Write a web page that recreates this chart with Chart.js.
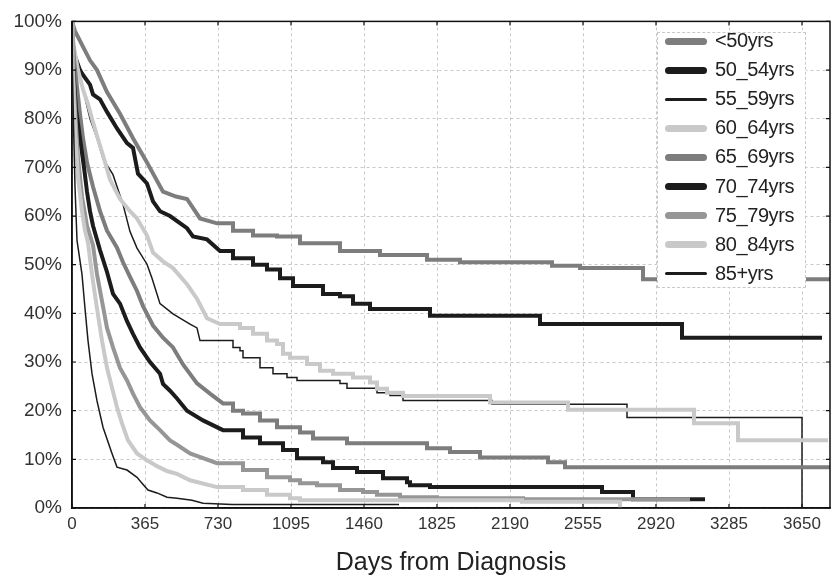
<!DOCTYPE html>
<html>
<head>
<meta charset="utf-8">
<script src="https://cdn.jsdelivr.net/npm/chart.js@4.4.1/dist/chart.umd.min.js"></script>
<style>
body { margin: 0; background: #fff; }
#wrap { position: relative; width: 832px; height: 578px; }
#legend { position: absolute; left: 657px; top: 32px; width: 149px; height: 256px; background: #fff; border: 1px dashed #c8c8c8; box-sizing: border-box; font: 20px "Liberation Sans", Arial, sans-serif; color: #222; }
.item { position: absolute; left: 0; height: 26px; width: 100%; }
.swatch { position: absolute; left: 7px; width: 42px; border-radius: 4px; }
.lbl { position: absolute; left: 57px; top: 1px; letter-spacing: -0.4px; }
</style>
</head>
<body>
<div id="wrap">
  <canvas id="myChart" width="832" height="578"></canvas>
  <div id="legend"></div>
</div>
<script>
// grupos de edad y estilo de cada linea
const groups = ['<50yrs', '50_54yrs', '55_59yrs', '60_64yrs', '65_69yrs', '70_74yrs', '75_79yrs', '80_84yrs', '85+yrs'];
const colors = ['#7d7d7d', '#1c1c1c', '#1c1c1c', '#c9c9c9', '#7d7d7d', '#1c1c1c', '#969696', '#c9c9c9', '#1c1c1c'];
const widths = [4, 4, 1.5, 4, 4, 4, 4, 4, 1.5];

const xTicks = [0, 365, 730, 1095, 1460, 1825, 2190, 2555, 2920, 3285, 3650];
const yTicks = [0, 10, 20, 30, 40, 50, 60, 70, 80, 90, 100];

// a partir de este dia los escalones se ven sueltos
const stepFrom = 800;

// [dias, supervivencia %]
const s_lt50 = [[0,100],[15,98],[40,96],[90,92],[125,90],[175,85.5],[240,81],[305,76],[375,71],[455,65],[520,64],[575,63.5],[640,59.5],[725,58.5],[805,57],[905,56],[1025,55.8],[1140,54.4],[1340,52.8],[1540,52],[1775,51],[1940,50.5],[2400,49.8],[2540,49.3],[2855,47],[3790,47]];
const s_50_54 = [[0,100],[5,94],[40,90],[55,89],[90,87],[105,85],[140,84],[175,81.4],[225,78],[275,75],[305,74],[330,68.7],[375,66.7],[405,63],[440,61],[490,60],[575,57.5],[605,55.8],[675,55.2],[740,52.8],[805,51.3],[905,50],[975,49],[1040,47.2],[1105,45.6],[1255,44],[1340,43.5],[1405,42],[1490,40.9],[1790,39.5],[2340,37.8],[3050,35],[3750,35]];
const s_55_59 = [[0,100],[8,96],[30,90],[55,86],[90,80],[125,76],[155,71.8],[205,68.5],[255,62.4],[290,56.8],[325,53.4],[375,50.1],[400,47.2],[440,42],[505,39.9],[540,39],[590,37.8],[625,37],[640,34.4],[805,33],[840,32.3],[855,30.9],[940,28.8],[1005,27.6],[1075,26.8],[1125,26.2],[1340,25.6],[1375,24.6],[1525,23.7],[1590,23.1],[1655,22.1],[2100,21.3],[2775,18.6],[3650,0]];
const s_60_64 = [[0,100],[8,95],[30,90],[55,86],[80,83],[100,80],[125,76.5],[155,72.5],[190,67.5],[240,63.5],[290,61],[325,59.5],[375,56],[405,52.5],[455,50.7],[505,49.3],[575,46],[625,43],[675,39],[740,37.8],[840,37],[905,35.8],[975,34.4],[1025,33.7],[1055,31.7],[1090,30.9],[1175,29.6],[1240,28.2],[1305,27.6],[1405,26.8],[1490,25.8],[1525,24.5],[1575,23.7],[1655,23],[2090,21.7],[2480,20.2],[3110,17.4],[3330,13.9],[3780,13.9]];
const s_65_69 = [[0,100],[10,92],[40,81],[55,76],[75,71],[105,66],[140,61],[175,57],[225,53.5],[255,50.5],[290,47.5],[325,44.6],[355,41.5],[405,37.5],[455,35],[505,33],[555,29.5],[625,25.6],[690,23.5],[755,21.5],[805,20],[855,19.4],[940,18],[1025,16.6],[1140,15.5],[1205,14.3],[1375,13.3],[1775,12.3],[1890,11.5],[2040,10.4],[2380,9.4],[2465,8.4],[3790,8.4]];
const s_70_74 = [[0,100],[3,92],[20,82],[40,76],[60,70],[75,65],[90,61],[105,58],[140,53],[175,48.5],[205,44],[240,42],[275,38.4],[305,35.8],[340,33],[390,30],[440,27.6],[455,25.5],[490,24.1],[525,22.5],[575,20],[655,18],[755,16],[855,14.5],[940,13.3],[1055,11.9],[1125,10.2],[1255,9.4],[1305,8.2],[1425,7.4],[1555,6.1],[1675,5.3],[1690,4.7],[1790,4.3],[2650,3.3],[2805,1.8],[3165,1.8]];
const s_75_79 = [[0,100],[3,92],[15,82],[30,72],[50,64],[75,58],[105,54],[125,48],[150,42.5],[175,37],[205,33],[240,28.8],[275,26.2],[305,23.5],[340,20.7],[390,18],[440,16],[490,13.9],[525,13],[590,11.2],[725,9.2],[855,7.8],[975,6.3],[1090,5.7],[1140,5.1],[1225,4.7],[1340,3.7],[1455,3.3],[1525,2.7],[1640,2.2],[1825,2],[2255,1.8],[3090,1.8]];
const s_80_84 = [[0,100],[3,90],[15,78],[30,68],[50,61],[65,57],[80,54.5],[100,48],[125,41],[150,34.4],[175,28.8],[200,24.7],[225,20.7],[250,17.4],[280,13.9],[325,11.2],[375,9.8],[425,8.6],[475,7.6],[525,7],[590,5.7],[725,4.3],[855,3.7],[975,2.7],[1090,2],[1140,1.6],[2250,1.3],[2740,0]];
const s_85 = [[0,100],[2,90],[8,78],[15,66],[25,55],[50,48],[65,41],[80,34.4],[100,27.6],[125,22],[155,16.6],[200,11.2],[225,8.4],[275,7.8],[325,6.3],[350,5.1],[380,3.7],[425,3.1],[475,2.2],[525,2],[600,1.6],[655,1],[800,0.7],[1635,0.7]];

const series = [s_lt50, s_50_54, s_55_59, s_60_64, s_65_69, s_70_74, s_75_79, s_80_84, s_85];

// tramo inicial continuo, despues escalones de Kaplan-Meier
function toPoints(s) {
    const pts = [];
    s.forEach((p, i) => {
        if (i > 0 && p[0] > stepFrom) {
            pts.push({ x: p[0], y: s[i - 1][1] });
        }
        pts.push({ x: p[0], y: p[1] });
    });
    return pts;
}

const datasets = series.map((s, i) => ({
    label: groups[i],
    data: toPoints(s),
    borderColor: colors[i],
    backgroundColor: colors[i],
    borderWidth: widths[i],
    pointRadius: 0,
    tension: 0,
    fill: false,
    order: 9 - i
}));

// marco negro y marcas hacia adentro
const framePlugin = {
    id: 'frame',
    afterDraw(chart) {
        const ctx = chart.ctx;
        const a = chart.chartArea;
        const xs = chart.scales.x;
        const ys = chart.scales.y;
        ctx.save();
        ctx.strokeStyle = '#111';
        ctx.lineWidth = 1.5;
        ctx.strokeRect(a.left, a.top, a.right - a.left, a.bottom - a.top);
        ctx.lineWidth = 1.2;
        ctx.beginPath();
        xTicks.forEach(v => {
            const px = xs.getPixelForValue(v);
            ctx.moveTo(px, a.bottom); ctx.lineTo(px, a.bottom - 4);
            ctx.moveTo(px, a.top); ctx.lineTo(px, a.top + 4);
        });
        yTicks.forEach(v => {
            const py = ys.getPixelForValue(v);
            ctx.moveTo(a.left, py); ctx.lineTo(a.left + 4, py);
            ctx.moveTo(a.right, py); ctx.lineTo(a.right - 4, py);
        });
        ctx.stroke();
        ctx.restore();
    }
};

const ctx = document.getElementById('myChart').getContext('2d');
const myChart = new Chart(ctx, {
    type: 'line',
    data: { datasets: datasets },
    options: {
        responsive: false,
        animation: false,
        layout: { padding: { top: 19, right: 2, left: 0, bottom: 0 } },
        plugins: {
            legend: { display: false },
            tooltip: { enabled: false }
        },
        scales: {
            x: {
                type: 'linear',
                min: 0,
                max: 3790,
                afterBuildTicks: scale => { scale.ticks = xTicks.map(v => ({ value: v })); },
                afterFit: scale => { scale.height = 70; },
                ticks: {
                    autoSkip: false,
                    maxRotation: 0,
                    padding: 6,
                    color: '#333',
                    callback: v => String(v),
                    font: { family: '"Liberation Sans", Arial, sans-serif', size: 17 }
                },
                grid: { color: '#c8c8c8', lineWidth: 1, drawTicks: false },
                border: { color: '#111', width: 1.5, dash: [3, 3] },
                title: {
                    display: true,
                    text: 'Days from Diagnosis',
                    color: '#222',
                    font: { family: '"Liberation Sans", Arial, sans-serif', size: 25 },
                    padding: { top: 0, bottom: 0 }
                }
            },
            y: {
                min: 0,
                max: 100,
                afterBuildTicks: scale => { scale.ticks = yTicks.map(v => ({ value: v })); },
                afterFit: scale => { scale.width = 72; },
                ticks: {
                    padding: 10,
                    color: '#333',
                    callback: v => v + '%',
                    font: { family: '"Liberation Sans", Arial, sans-serif', size: 19 }
                },
                grid: { color: '#c8c8c8', lineWidth: 1, drawTicks: false },
                border: { color: '#111', width: 1.5, dash: [3, 3] }
            }
        }
    },
    plugins: [framePlugin]
});

// leyenda en html a partir de los datasets
const legendBox = document.getElementById('legend');
myChart.data.datasets.forEach((ds, i) => {
    const item = document.createElement('div');
    item.className = 'item';
    item.style.top = (-5 + i * 29.1) + 'px';
    const sw = document.createElement('span');
    sw.className = 'swatch';
    const h = ds.borderWidth > 2 ? 7 : 3;
    sw.style.height = h + 'px';
    sw.style.top = (13 - h / 2) + 'px';
    sw.style.background = ds.borderColor;
    const lbl = document.createElement('span');
    lbl.className = 'lbl';
    lbl.textContent = ds.label;
    item.appendChild(sw);
    item.appendChild(lbl);
    legendBox.appendChild(item);
});
</script>
</body>
</html>
